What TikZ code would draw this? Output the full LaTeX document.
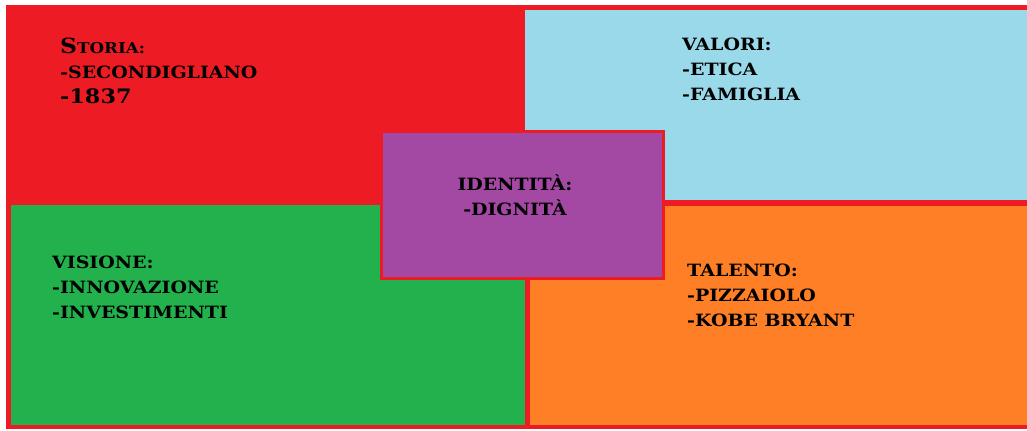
\documentclass[tikz,border=0pt]{standalone}
\usepackage{fontspec}
\newfontfamily\algfont{DejaVu Serif Bold}[FakeStretch=1.12]
\definecolor{pred}{HTML}{ED1C24}
\definecolor{pblue}{HTML}{99D9EA}
\definecolor{pgreen}{HTML}{22B14C}
\definecolor{porange}{HTML}{FF7F27}
\definecolor{ppurple}{HTML}{A349A4}
\begin{document}
\begin{tikzpicture}[x=1bp,y=-1bp,
  panel/.style={anchor=north west, inner sep=0pt, outer sep=0pt, draw=none},
  txt/.style={font=\algfont\fontsize{17}{25}\selectfont, align=left, anchor=base west, inner sep=0pt, text=black}]
\useasboundingbox (0,0) rectangle (1027,430);
\fill[white] (0,0) rectangle (1027,430);
\node[panel, fill=pred, minimum width=1021bp, minimum height=424bp] (sfondo) at (6,5) {};
\node[panel, fill=pblue, minimum width=502bp, minimum height=190bp] (valori) at (525,10) {};
\node[panel, fill=pgreen, minimum width=514bp, minimum height=220bp] (visione) at (11,205) {};
\node[panel, fill=porange, minimum width=497bp, minimum height=219bp] (talento) at (530,206) {};
\node[anchor=north west, draw=pred, line width=3bp, fill=ppurple, minimum width=282bp, minimum height=147bp, inner sep=0pt] (identita) at (380,130) {};
\node[txt] (tstoria) at (60,103) {{\fontsize{21}{25}\selectfont S}{\fontsize{15}{25}\selectfont TORIA:}\\-SECONDIGLIANO\\{\fontsize{20}{25}\selectfont -1837}};
\node[txt] (tvalori) at (682,100) {VALORI:\\-ETICA\\-FAMIGLIA};
\node[txt, align=center, anchor=base] (tidentita) at (515,215) {IDENTITÀ:\\-DIGNITÀ};
\node[txt] (tvisione) at (52,318) {VISIONE:\\-INNOVAZIONE\\-INVESTIMENTI};
\node[txt] (ttalento) at (687,326) {TALENTO:\\-PIZZAIOLO\\-KOBE BRYANT};
\end{tikzpicture}
\end{document}
